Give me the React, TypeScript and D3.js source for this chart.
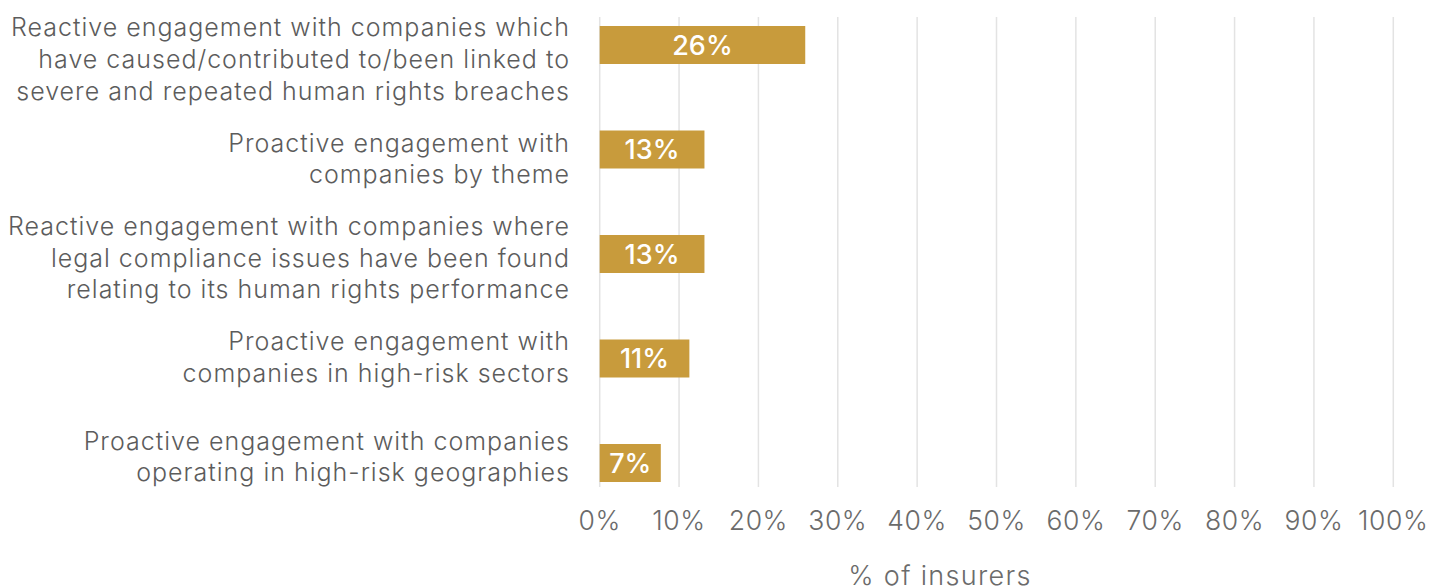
import React from "react";
import * as d3 from "d3";

const categories: string[][] = [
  ["Reactive engagement with companies which", "have caused/contributed to/been linked to", "severe and repeated human rights breaches"],
  ["Proactive engagement with", "companies by theme"],
  ["Reactive engagement with companies where", "legal compliance issues have been found", "relating to its human rights performance"],
  ["Proactive engagement with", "companies in high-risk sectors"],
  ["Proactive engagement with companies", "operating in high-risk geographies"],
];
const values: number[] = [25.9, 13.2, 13.2, 11.3, 7.7];
const valueLabels: string[] = ["26%", "13%", "13%", "11%", "7%"];
const ticks: number[] = [0, 10, 20, 30, 40, 50, 60, 70, 80, 90, 100];
const axisTitle = "% of insurers";

const W = 1432;
const H = 588;
const FONT = "Inter, 'Open Sans', sans-serif";

export default function App() {
  const x = d3.scaleLinear().domain([0, 100]).range([599.7, 1393.3]);
  const idx = d3.range(categories.length);
  const y = d3.scalePoint<number>().domain(idx).range([45, 463]);
  const yLabel = d3.scalePoint<number>().domain(idx).range([59, 456.5]);
  const barH = 38;
  const lineH = 31.7;
  const gridTop = 17;
  const gridBottom = 487;

  return (
    <svg width={W} height={H} style={{ position: "absolute", left: 0, top: 0, background: "#fff" }} fontFamily={FONT}>
      {ticks.map((t) => (
        <line key={"g" + t} x1={x(t)} x2={x(t)} y1={gridTop} y2={gridBottom} stroke="#e3e3e3" strokeWidth={1.5} />
      ))}
      {values.map((v, i) => (
        <g key={"b" + i}>
          <rect x={x(0)} y={(y(i) as number) - barH / 2} width={x(v) - x(0)} height={barH} fill="#C89B3C" />
          <text x={(x(0) + x(v)) / 2} y={y(i) as number} dy="0.36em" textAnchor="middle" fill="#fff" fontSize={27} fontWeight={500}>
            {valueLabels[i]}
          </text>
        </g>
      ))}
      {categories.map((lines, i) => (
        <text key={"c" + i} textAnchor="end" fill="#5c5c5c" fontSize={25} fontWeight={300} letterSpacing={1}>
          {lines.map((l, j) => (
            <tspan key={j} x={570} y={(yLabel(i) as number) + (j - (lines.length - 1) / 2) * lineH} dy="0.36em">
              {l}
            </tspan>
          ))}
        </text>
      ))}
      {ticks.map((t) => (
        <text key={"t" + t} x={x(t)} y={520} dy="0.36em" textAnchor="middle" fill="#6b6b6b" fontSize={26.5} fontWeight={300} letterSpacing={0.6}>
          {t + "%"}
        </text>
      ))}
      <text x={940} y={575} dy="0.36em" textAnchor="middle" fill="#6b6b6b" fontSize={27} fontWeight={300} letterSpacing={1.3}>
        {axisTitle}
      </text>
    </svg>
  );
}
